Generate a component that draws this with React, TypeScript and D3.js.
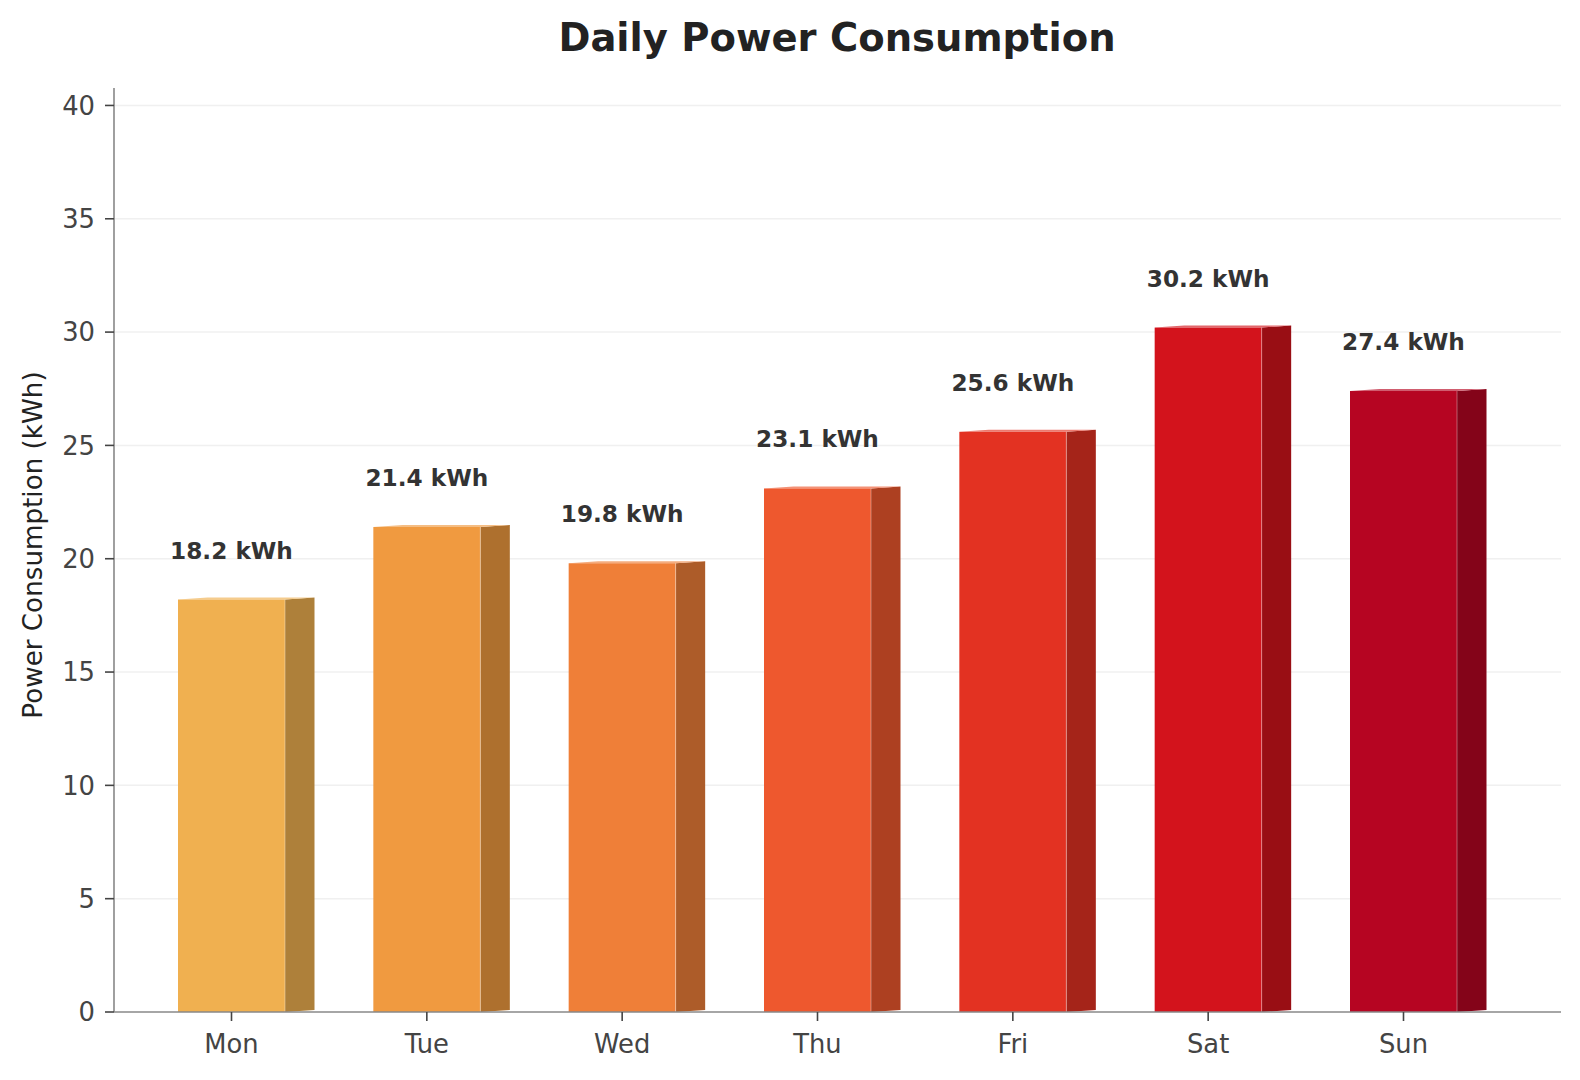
import { useEffect, useRef } from "react";
import * as d3 from "d3";

const days = ["Mon", "Tue", "Wed", "Thu", "Fri", "Sat", "Sun"];
const consumption = [18.2, 21.4, 19.8, 23.1, 25.6, 30.2, 27.4];
const frontColors = ["#f0b050", "#f09a40", "#ef7f38", "#ee582e", "#e33222", "#d3131c", "#b60522"];
const yTicks = [0, 5, 10, 15, 20, 25, 30, 35, 40];

const App = () => {
  const ref = useRef<SVGSVGElement>(null);

  useEffect(() => {
    const width = 1580;
    const height = 1080;
    const left = 114;
    const right = 1561;
    const bottom = 1012;
    const top = 88;

    const svg = d3.select(ref.current);
    svg.selectAll("*").remove();
    svg.attr("viewBox", `0 0 ${width} ${height}`);

    const y = d3
      .scaleLinear()
      .domain([0, d3.max(consumption)! * 1.35])
      .range([bottom, top]);

    const x = d3.scalePoint().domain(days).range([231.5, 1403.5]);

    const barW = 107;
    const dx = 29.5;
    const dy = -2;
    const font = "DejaVu Sans, sans-serif";

    // grid
    svg
      .append("g")
      .selectAll("line")
      .data(yTicks.filter((t) => t > 0))
      .join("line")
      .attr("x1", left)
      .attr("x2", right)
      .attr("y1", (d) => y(d))
      .attr("y2", (d) => y(d))
      .attr("stroke", "#f0f0f0")
      .attr("stroke-width", 1.5);

    const bars = svg
      .append("g")
      .selectAll("g")
      .data(days.map((d, i) => ({ day: d, v: consumption[i], c: frontColors[i] })))
      .join("g");

    // side face
    bars
      .append("path")
      .attr("d", (d) => {
        const x1 = x(d.day)! + barW / 2;
        const yt = y(d.v);
        return `M${x1},${bottom}L${x1},${yt}L${x1 + dx},${yt + dy}L${x1 + dx},${bottom + dy}Z`;
      })
      .attr("fill", (d) => d3.color(d.c)!.darker(0.9).formatHex());

    // top face
    bars
      .append("path")
      .attr("d", (d) => {
        const x0 = x(d.day)! - barW / 2;
        const x1 = x0 + barW;
        const yt = y(d.v);
        return `M${x0},${yt}L${x1},${yt}L${x1 + dx},${yt + dy}L${x0 + dx},${yt + dy}Z`;
      })
      .attr("fill", (d) => d3.interpolateRgb(d.c, "#ffffff")(0.35));

    // front face
    bars
      .append("rect")
      .attr("x", (d) => x(d.day)! - barW / 2)
      .attr("y", (d) => y(d.v))
      .attr("width", barW)
      .attr("height", (d) => bottom - y(d.v))
      .attr("fill", (d) => d.c);

    // edge highlight
    bars
      .append("line")
      .attr("x1", (d) => x(d.day)! + barW / 2)
      .attr("x2", (d) => x(d.day)! + barW / 2)
      .attr("y1", (d) => y(d.v))
      .attr("y2", bottom)
      .attr("stroke", "#ffffff")
      .attr("stroke-opacity", 0.35)
      .attr("stroke-width", 1);

    // value labels
    bars
      .append("text")
      .attr("x", (d) => x(d.day)!)
      .attr("y", (d) => y(d.v) - 41)
      .attr("text-anchor", "middle")
      .attr("font-family", font)
      .attr("font-weight", "bold")
      .attr("font-size", 23.2)
      .attr("fill", "#333333")
      .text((d) => `${d.v} kWh`);

    // axes
    svg
      .append("line")
      .attr("x1", left)
      .attr("x2", left)
      .attr("y1", top)
      .attr("y2", bottom)
      .attr("stroke", "#888888")
      .attr("stroke-width", 1.6);
    svg
      .append("line")
      .attr("x1", left)
      .attr("x2", right)
      .attr("y1", bottom)
      .attr("y2", bottom)
      .attr("stroke", "#888888")
      .attr("stroke-width", 1.6);

    const yt = svg.append("g").selectAll("g").data(yTicks).join("g");
    yt.append("line")
      .attr("x1", left - 9)
      .attr("x2", left)
      .attr("y1", (d) => y(d))
      .attr("y2", (d) => y(d))
      .attr("stroke", "#444444")
      .attr("stroke-width", 1.6);
    yt.append("text")
      .attr("x", left - 19)
      .attr("y", (d) => y(d))
      .attr("dy", "0.36em")
      .attr("text-anchor", "end")
      .attr("font-family", font)
      .attr("font-size", 25.8)
      .attr("fill", "#444444")
      .text((d) => d);

    const xt = svg.append("g").selectAll("g").data(days).join("g");
    xt.append("line")
      .attr("x1", (d) => x(d)!)
      .attr("x2", (d) => x(d)!)
      .attr("y1", bottom)
      .attr("y2", bottom + 9)
      .attr("stroke", "#444444")
      .attr("stroke-width", 1.6);
    xt.append("text")
      .attr("x", (d) => x(d)!)
      .attr("y", bottom + 41)
      .attr("text-anchor", "middle")
      .attr("font-family", font)
      .attr("font-size", 25.8)
      .attr("fill", "#444444")
      .text((d) => d);

    svg
      .append("text")
      .attr("transform", `translate(42,545) rotate(-90)`)
      .attr("text-anchor", "middle")
      .attr("font-family", font)
      .attr("font-size", 26.2)
      .attr("fill", "#222222")
      .text("Power Consumption (kWh)");

    svg
      .append("text")
      .attr("x", 837)
      .attr("y", 51)
      .attr("text-anchor", "middle")
      .attr("font-family", font)
      .attr("font-weight", "bold")
      .attr("font-size", 38.5)
      .attr("fill", "#222222")
      .text("Daily Power Consumption");
  }, []);

  return (
    <svg
      ref={ref}
      style={{
        position: "fixed",
        left: 0,
        top: 0,
        width: "100vw",
        height: "100vh",
        display: "block",
        background: "#ffffff",
      }}
    />
  );
};

export default App;
